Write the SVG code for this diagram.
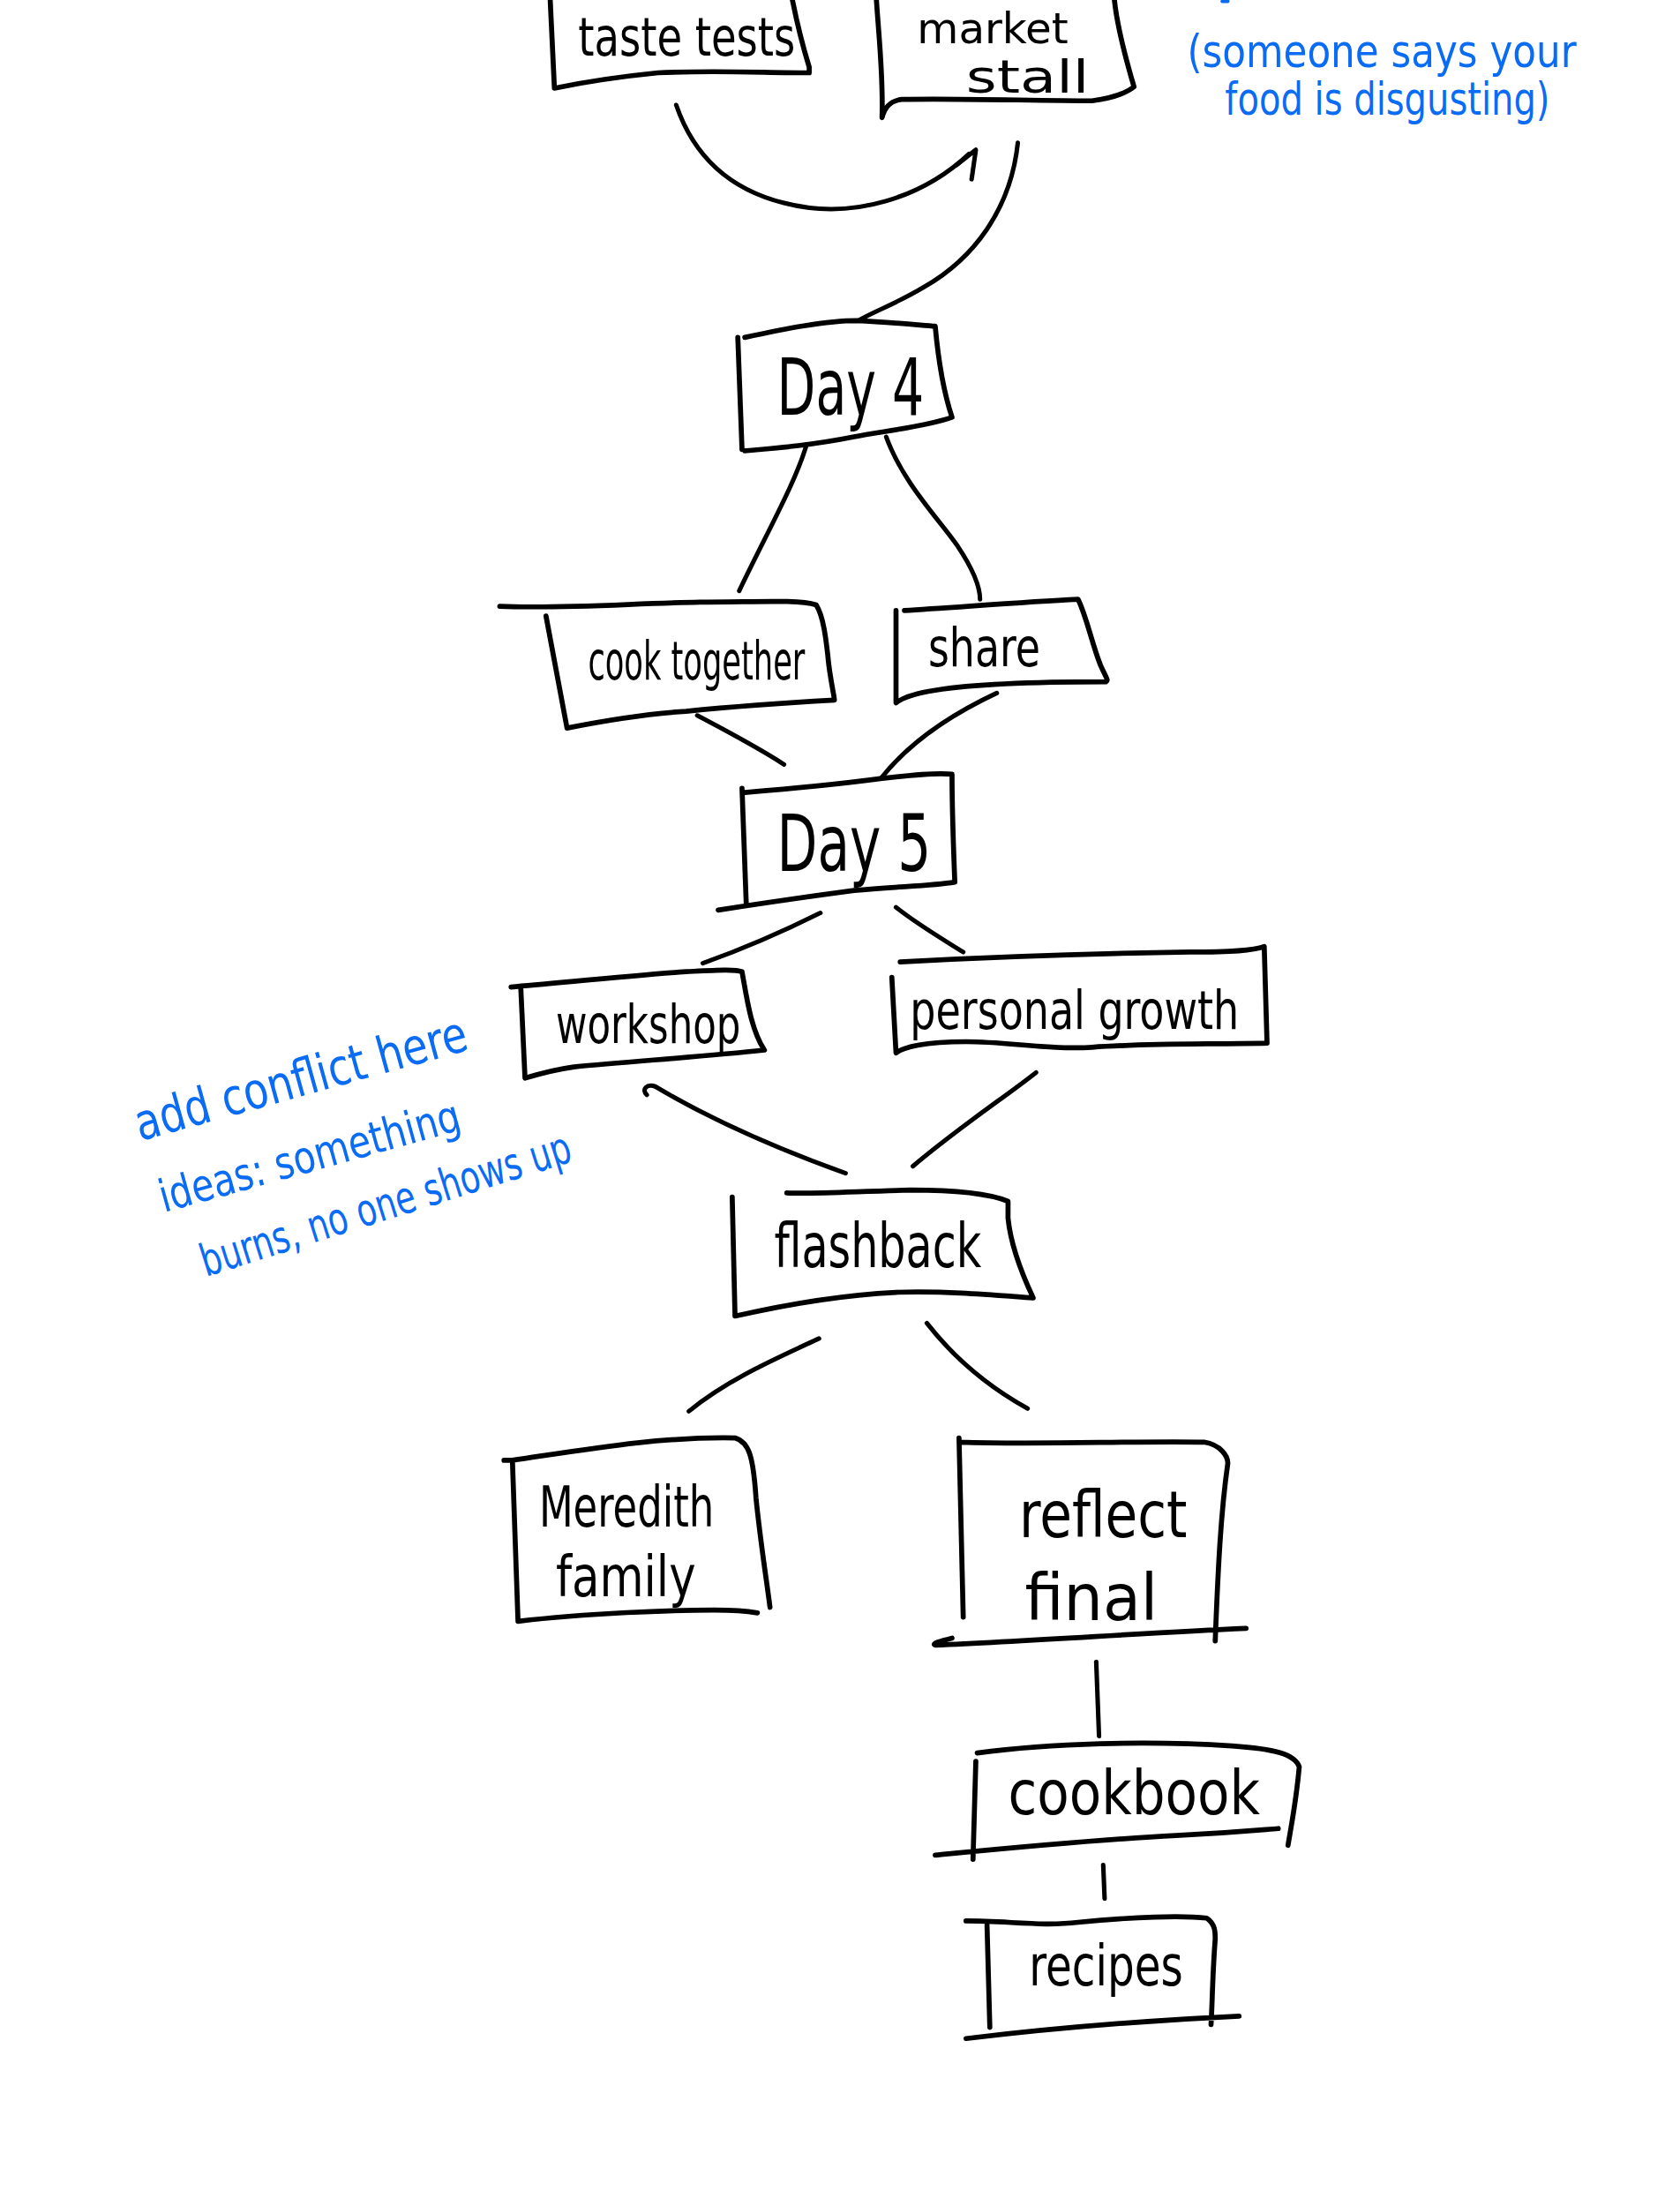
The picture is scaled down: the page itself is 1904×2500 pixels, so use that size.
<svg xmlns="http://www.w3.org/2000/svg" width="1904" height="2500" viewBox="0 0 1904 2500">
<style>
.box{fill:none;stroke:#000;stroke-width:3.6;stroke-linecap:round;stroke-linejoin:round}
.con{fill:none;stroke:#000;stroke-width:3.2;stroke-linecap:round;stroke-linejoin:round}
.lbl{font-family:"DejaVu Sans Condensed","Liberation Sans Narrow","Liberation Sans",sans-serif;fill:#000}
.note{font-family:"DejaVu Sans Condensed","Liberation Sans Narrow","Liberation Sans",sans-serif;fill:#0a6cf5}
.mark{fill:none;stroke:#0a6cf5;stroke-width:2.5;stroke-linecap:round}
</style>
<rect width="1904" height="2500" fill="#fff"/>
<g transform="scale(1.5867)">
<g id="connectors">
<path class="con" d="M483,75 C495,110 520,135 560,145 C610,158 660,140 692,110"/>
<path class="con" d="M683,118 L697,107 L694,128"/>
<path class="con" d="M727,102 C722,150 695,185 660,205 C640,217 625,222 613,229"/>
<path class="con" d="M576,318 C568,345 548,380 528,422"/>
<path class="con" d="M633,312 C645,345 670,370 684,390 C694,405 700,418 700,428"/>
<path class="con" d="M498,511 C515,520 540,533 560,546"/>
<path class="con" d="M712,495 C680,510 650,530 630,555"/>
<path class="con" d="M586,652 C560,665 530,678 502,688"/>
<path class="con" d="M640,648 C655,660 672,670 688,680"/>
<path class="con" d="M462,782 C458,778 462,774 468,776 C500,795 540,815 604,838"/>
<path class="con" d="M740,766 C720,782 685,805 652,833"/>
<path class="con" d="M585,956 C555,970 520,985 492,1008"/>
<path class="con" d="M662,945 C680,968 705,990 734,1006"/>
<path class="con" d="M783,1187 L785,1240"/>
<path class="con" d="M788,1332 L789,1356"/>
</g>
<g id="taste-tests">
<path class="box" d="M393,0 L396,63 M396,63 C420,58 440,55 470,52 C510,50 545,52 578,52 L578,48 M566,0 C570,20 574,35 578,48"/>
<text class="lbl" x="413" y="40" textLength="155" lengthAdjust="spacingAndGlyphs" style="font-size:38px">taste tests</text>
</g>
<g id="market-stall">
<path class="box" d="M626,0 C628,30 631,55 630,84 C632,76 636,72 644,71 C680,70 740,72 780,72 C795,70 805,66 810,62 C805,45 798,20 796,0"/>
<text class="lbl" x="655" y="31" textLength="108" lengthAdjust="spacingAndGlyphs" style="font-size:30px">market</text>
<text class="lbl" x="690" y="66" textLength="88" lengthAdjust="spacingAndGlyphs" style="font-size:32px">stall</text>
</g>
<g id="day4">
<path class="box" d="M527,241 L530,321 M532,241 C560,235 590,229 612,229 C635,230 655,232 668,233 C670,255 674,280 680,298 C660,305 630,308 610,312 C580,318 555,320 532,322"/>
<text class="lbl" x="555" y="296" textLength="105" lengthAdjust="spacingAndGlyphs" style="font-size:56px">Day 4</text>
</g>
<g id="cook-together">
<path class="box" d="M357,433 C400,435 450,431 500,430 C540,430 570,428 583,432 C588,440 590,455 592,475 C594,490 596,498 596,500 C560,502 520,505 490,508 C460,510 430,515 405,520 L390,440"/>
<text class="lbl" x="420" y="485" textLength="155" lengthAdjust="spacingAndGlyphs" style="font-size:38px">cook together</text>
</g>
<g id="share">
<path class="box" d="M646,436 C680,434 730,430 770,428 C776,440 780,460 786,475 C790,484 792,486 790,487 C750,487 700,488 668,493 C655,495 645,498 640,502 L640,436"/>
<text class="lbl" x="663" y="476" textLength="80" lengthAdjust="spacingAndGlyphs" style="font-size:38px">share</text>
</g>
<g id="day5">
<path class="box" d="M530,563 L533,645 M532,566 C570,563 600,560 630,556 C655,553 672,552 680,553 C680,580 681,605 682,630 M513,650 C545,645 580,640 610,636 C640,633 665,633 682,630"/>
<text class="lbl" x="555" y="622" textLength="110" lengthAdjust="spacingAndGlyphs" style="font-size:56px">Day 5</text>
</g>
<g id="workshop">
<path class="box" d="M365,705 C400,702 450,697 490,694 C510,693 525,692 530,694 C533,710 536,735 546,750 C500,755 450,758 410,762 C395,764 385,767 375,770 L372,706"/>
<text class="lbl" x="397" y="745" textLength="132" lengthAdjust="spacingAndGlyphs" style="font-size:38px">workshop</text>
</g>
<g id="personal-growth">
<path class="box" d="M643,687 C700,684 780,681 850,680 C880,680 895,679 903,676 L905,745 C860,746 820,745 780,748 C750,750 720,744 690,744 C660,744 645,748 640,752 L637,698"/>
<text class="lbl" x="650" y="735" textLength="235" lengthAdjust="spacingAndGlyphs" style="font-size:38px">personal growth</text>
</g>
<g id="flashback">
<path class="box" d="M523,855 L525,940 C560,932 600,925 640,923 C680,922 710,925 738,927 C730,910 722,890 720,870 L720,858 C705,852 680,850 650,850 C610,851 580,853 562,852"/>
<text class="lbl" x="553" y="905" textLength="148" lengthAdjust="spacingAndGlyphs" style="font-size:44px">flashback</text>
</g>
<g id="meredith-family">
<path class="box" d="M360,1043 L366,1043 L370,1158 C420,1152 480,1150 510,1150 C525,1150 535,1151 541,1152 M366,1043 C420,1035 470,1026 525,1027 C535,1030 538,1040 540,1070 C543,1100 547,1125 550,1148"/>
<text class="lbl" x="385" y="1090" textLength="125" lengthAdjust="spacingAndGlyphs" style="font-size:40px">Meredith</text>
<text class="lbl" x="397" y="1140" textLength="100" lengthAdjust="spacingAndGlyphs" style="font-size:40px">family</text>
</g>
<g id="reflect-final">
<path class="box" d="M685,1027 L688,1155 M686,1030 C740,1032 810,1029 860,1030 C872,1032 877,1040 877,1045 C872,1080 870,1120 868,1172 M680,1170 C672,1172 665,1174 668,1175 C740,1172 820,1166 890,1163"/>
<text class="lbl" x="728" y="1098" textLength="120" lengthAdjust="spacingAndGlyphs" style="font-size:46px">reflect</text>
<text class="lbl" x="732" y="1157" textLength="95" lengthAdjust="spacingAndGlyphs" style="font-size:46px">final</text>
</g>
<g id="cookbook">
<path class="box" d="M697,1258 L695,1328 M698,1252 C750,1245 820,1243 880,1247 C910,1249 925,1253 928,1262 C926,1285 923,1300 920,1318 M668,1325 C720,1320 780,1314 840,1311 C880,1309 900,1307 913,1306"/>
<text class="lbl" x="720" y="1296" textLength="180" lengthAdjust="spacingAndGlyphs" style="font-size:44px">cookbook</text>
</g>
<g id="recipes">
<path class="box" d="M705,1375 L707,1448 M690,1372 C720,1372 745,1376 770,1373 C810,1369 845,1368 862,1370 C868,1374 868,1380 868,1385 C866,1410 866,1430 865,1446 M690,1456 C740,1450 800,1444 885,1440"/>
<text class="lbl" x="735" y="1418" textLength="110" lengthAdjust="spacingAndGlyphs" style="font-size:40px">recipes</text>
</g>
<g id="note-top">
<path class="mark" d="M873,1 L877,1"/>
<text class="note" x="848" y="48" textLength="278" lengthAdjust="spacingAndGlyphs" style="font-size:32px">(someone says your</text>
<text class="note" x="875" y="82" textLength="232" lengthAdjust="spacingAndGlyphs" style="font-size:32px">food is disgusting)</text>
</g>
<g id="note-left">
<text class="note" transform="translate(100,815) rotate(-15.5)" textLength="245" lengthAdjust="spacingAndGlyphs" style="font-size:36px">add conflict here</text>
<text class="note" transform="translate(117,866) rotate(-15.5)" textLength="222" lengthAdjust="spacingAndGlyphs" style="font-size:32px">ideas:  something</text>
<text class="note" transform="translate(147,912) rotate(-17.5)" textLength="276" lengthAdjust="spacingAndGlyphs" style="font-size:32px">burns,  no one shows up</text>
</g>
</g>
</svg>
